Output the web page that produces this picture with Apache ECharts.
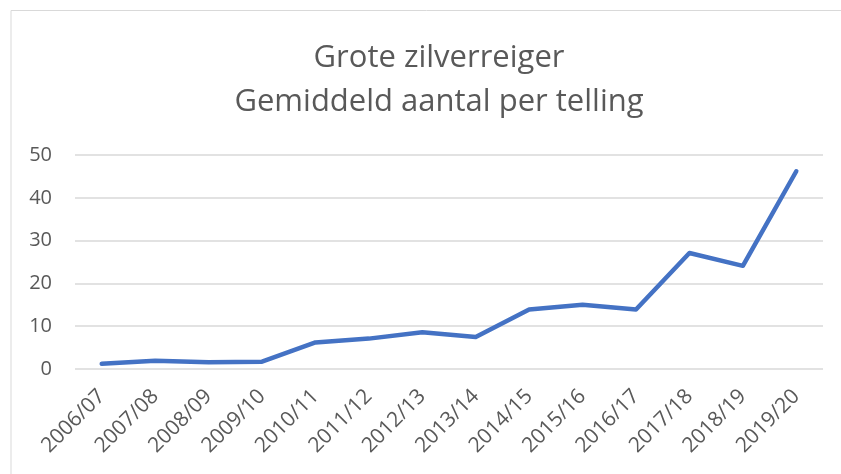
<!DOCTYPE html>
<html>
<head>
<meta charset="utf-8">
<script src="https://cdn.jsdelivr.net/npm/echarts@6/dist/echarts.min.js"></script>
<style>html,body{margin:0;padding:0;background:#fff;}#c{width:841px;height:474px;}</style>
</head>
<body>
<div id="c"></div>
<script>
const titleLines = ['Grote zilverreiger', 'Gemiddeld aantal per telling'];
const seasons = ['2006/07','2007/08','2008/09','2009/10','2010/11','2011/12','2012/13','2013/14','2014/15','2015/16','2016/17','2017/18','2018/19','2019/20'];
const averageCount = [1.2, 1.9, 1.6, 1.7, 6.2, 7.1, 8.6, 7.5, 13.9, 15.0, 13.9, 27.1, 24.1, 46.2];
const yTicks = {min: 0, max: 50, interval: 10};

const chart = echarts.init(document.getElementById('c'), null, {renderer: 'canvas'});
const font = '"Open Sans", "Liberation Sans", sans-serif';
chart.setOption({
  animation: false,
  backgroundColor: '#ffffff',
  graphic: [{
    type: 'rect', shape: {x: 11, y: 10.5, width: 900, height: 600},
    style: {fill: 'none', stroke: '#d9d9d9', lineWidth: 1}, silent: true, z: -1
  }],
  title: {
    text: titleLines.join('\n'),
    left: 434, top: 31, textAlign: 'center',
    textStyle: {fontFamily: font, fontSize: 31, fontWeight: 'normal', color: '#595959', lineHeight: 44}
  },
  grid: {left: 75, right: 18, top: 155, bottom: 105, containLabel: false},
  xAxis: {
    type: 'category', data: seasons, boundaryGap: true,
    axisLine: {show: false}, axisTick: {show: false},
    axisLabel: {rotate: 45, interval: 0, margin: 24, fontFamily: font, fontSize: 21, color: '#595959'}
  },
  yAxis: {
    type: 'value', min: yTicks.min, max: yTicks.max, interval: yTicks.interval,
    axisLine: {show: false}, axisTick: {show: false},
    axisLabel: {margin: 23, fontFamily: font, fontSize: 20, color: '#595959'},
    splitLine: {lineStyle: {color: '#d9d9d9', width: 1.5}}
  },
  series: [{
    type: 'line', data: averageCount, showSymbol: false, symbol: 'none',
    lineStyle: {color: '#4472c4', width: 4.5, cap: 'round', join: 'round'}
  }]
});
</script>
</body>
</html>
